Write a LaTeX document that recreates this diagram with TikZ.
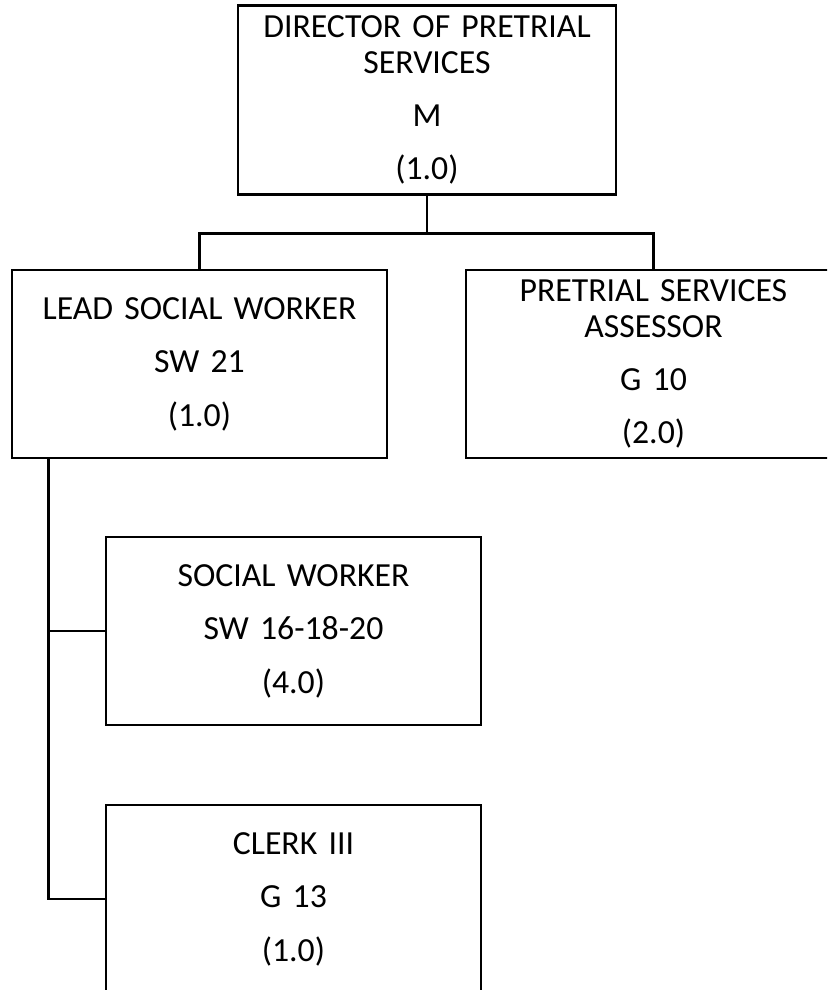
\documentclass[tikz,border=0pt]{standalone}
\usepackage{fontspec}
\setmainfont{Carlito}

\tikzstyle{post} = [rectangle, minimum width=9.375cm, minimum height=4.7cm, text centered, text width = 9.375cm, inner sep=0pt, draw=black, line width=1.8pt, font=\fontsize{24pt}{25.5pt}\selectfont]
\tikzstyle{link} = [line width=1.8pt]

\begin{document}
\begin{tikzpicture}[node distance=2cm]
\useasboundingbox (0,0) rectangle (20.675,24.75);
\clip (0,0) rectangle (20.675,24.75);

\node (dir) [post, minimum width=9.45cm, text width=9.45cm, minimum height=4.725cm, xshift = 10.675cm, yshift = 22.25cm] {DIRECTOR OF PRETRIAL\\SERVICES\\[12.5pt] M\\[12.5pt] (1.0)};
\node (lead) [post, xshift = 4.9875cm, yshift = 15.65cm] {LEAD SOCIAL WORKER\\[12.5pt] SW 21\\[12.5pt] (1.0)};
\node (assr) [post, xshift = 16.3375cm, yshift = 15.65cm] {PRETRIAL SERVICES\\ASSESSOR\\[12.5pt] G 10\\[12.5pt] (2.0)};
\node (sw) [post, xshift = 7.3375cm, yshift = 8.975cm] {SOCIAL WORKER\\[12.5pt] SW 16-18-20\\[12.5pt] (4.0)};
\node (clerk) [post, xshift = 7.3375cm, yshift = 2.275cm] {CLERK III\\[12.5pt] G 13\\[12.5pt] (1.0)};

\draw [link] (dir.south) -- ++(0,-0.95) -| (lead.north);
\draw [link] (dir.south) -- ++(0,-0.95) -| (assr.north);
\draw [link] ([xshift=0.95cm]lead.south west) |- (sw.west);
\draw [link] ([xshift=0.95cm]lead.south west) |- (clerk.west);

\end{tikzpicture}
\end{document}
